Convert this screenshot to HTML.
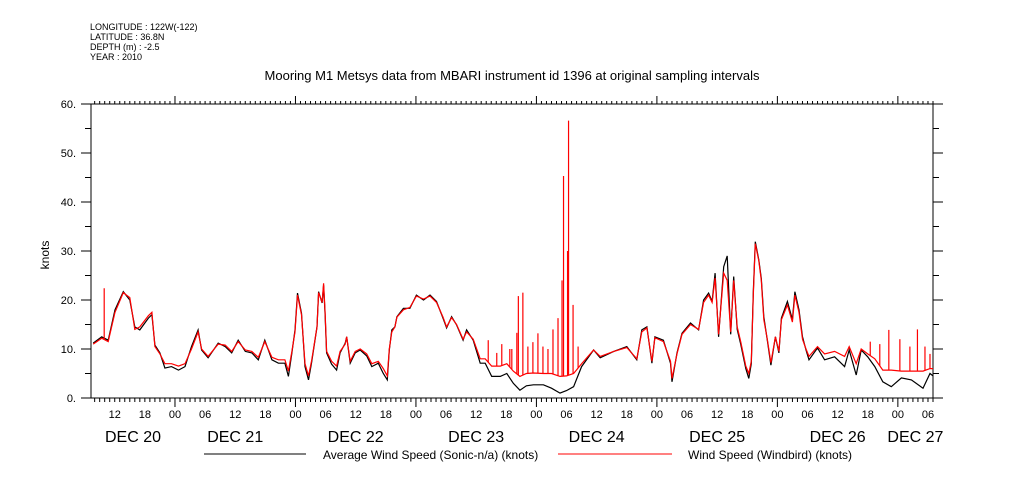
<!DOCTYPE html>
<html><head><meta charset="utf-8"><style>
body{margin:0;background:#fff;}
svg{display:block;font-family:"Liberation Sans",sans-serif;}
</style></head><body>
<svg id="chart" width="1009" height="504" viewBox="0 0 1009 504">
<g font-size="9" fill="#000">
<text x="90" y="30">LONGITUDE : 122W(-122)</text>
<text x="90" y="40">LATITUDE : 36.8N</text>
<text x="90" y="50">DEPTH (m) : -2.5</text>
<text x="90" y="60">YEAR : 2010</text>
</g>
<text x="512" y="80" text-anchor="middle" font-size="13">Mooring M1 Metsys data from MBARI instrument id 1396 at original sampling intervals</text>
<text transform="translate(49,255) rotate(-90)" text-anchor="middle" font-size="12">knots</text>
<rect x="91" y="104" width="842" height="294" fill="none" stroke="#000" stroke-width="1"/>
<g id="axes"></g>
<g id="series"></g>
<g font-size="12">
<line x1="204" y1="454" x2="306" y2="454" stroke="#000"/>
<text x="323" y="459">Average Wind Speed (Sonic-n/a) (knots)</text>
<line x1="558" y1="454" x2="672" y2="454" stroke="#f00"/>
<text x="688" y="459">Wind Speed (Windbird) (knots)</text>
</g>
</svg>
<script>
const sampleHours=[7.7,9.4,10.7,12.05,13.7,15,16,17,18.7,19.4,20,21,22,23.3,24.7,26,27.3,28.6,29.3,30.6,32.6,34,35.3,36.6,38,39.3,40.6,41.9,43.3,44.6,45.9,46.6,47.3,47.9,48.4,49.2,49.9,50.6,51.2,51.6,52.3,52.6,53.3,53.6,53.9,54.2,55.2,56.2,56.9,57.9,58.2,58.9,59.9,60.9,62.2,63.2,64.5,65.5,66.3,66.7,67.2,67.8,68.2,69.5,70.8,72.1,73.5,74.8,76.1,77.4,78.1,79.1,80.1,81.4,82.1,83.4,84.8,85.8,87.1,88.8,90.1,91.4,92.7,94,95.4,97.4,99,100.7,102,103.4,105,107.4,108.7,111.4,114,116,117,118,119,119.6,121.3,122.7,123,124,125,126.7,128.3,129.3,130.3,131,131.6,132.3,133.3,134,134.7,135.3,136,136.7,137.7,138.3,138.8,139.2,139.6,140.3,140.8,141.3,142,142.7,143.6,144.3,144.8,146,147,147.5,148.3,149,149.7,150.3,152,153.4,155.4,157.4,158.3,159.7,160.7,162,163.4,165,166.7,168.7,170.7,173,174.4,175];
const averageValues=[11.2,12.5,11.8,18,21.7,20,14.5,13.9,16.3,17,10.8,9.2,6.1,6.4,5.7,6.4,10.5,13.9,9.8,8.2,11.2,10.5,9.2,11.8,9.5,9.2,7.8,11.8,7.8,7.1,7.1,4.4,9.2,13.9,21.4,17.3,6.4,3.7,7.1,9.8,14.5,21.7,19.4,23,17,9.2,6.9,5.7,9.2,11.2,12.5,7.1,9.2,9.8,8.6,6.4,7.1,5,3.7,9.8,13.9,14.5,16.6,18.3,18.3,21,20,21,19.7,16.3,14.3,16.6,14.9,11.8,13.9,11.8,7.1,7.1,4.4,4.4,5,3,1.6,2.5,2.7,2.7,2,1,1.5,2.3,6.4,9.8,8.2,9.5,10.5,7.8,13.9,14.5,7.1,12.5,11.8,7.1,3.3,9.2,13.2,15.3,13.9,20,21.4,19.7,25.5,12.5,26.8,29,13,24.8,14,11,6,4,7,21.7,31.9,28.2,24.4,16.6,11.8,6.7,12.5,9.2,16.3,19.7,16,21.7,18,12.5,9.8,7.8,10.2,7.8,8.4,6.4,9.8,4.7,9.8,8.4,6.4,3.3,2.3,4.1,3.7,2,5,4.5];
const windbirdValues=[11,12.2,11.5,17.5,21.5,20.5,14,14.5,16.8,17.5,10.5,9,7,7,6.5,7,10,13.5,10,8.5,11,10.8,9.5,11.5,9.8,9.5,8.3,11.5,8.3,7.8,7.8,5.5,9.5,13.5,21,17,7,4.5,7.5,10,14.5,21.5,19.5,23.4,17.5,9.5,7.5,6.5,9.5,11,12.5,7.5,9.5,10,9,7,7.5,6,4.5,10,13.5,14.5,16.5,18,18.5,20.8,20.2,20.8,19.5,16.5,14.5,16.4,15,12,13.5,12,8,8,6.5,6.5,7,5.5,4.4,5,5.1,5,5,4.4,4.5,5,7,9.8,8.5,9.5,10.3,8,13.5,14.3,7.5,12.3,11.5,7.5,4,9,13,15,14,19.5,21,19.5,24.5,13,25.5,24,13.5,24,14.5,11.5,6.5,5,7.5,21,31.5,28,24,16,12,7.2,12.5,9.5,16,19,15.5,21,17.5,12,10,8.5,10.5,9,9.5,8.5,10.5,7,10,9,8,5.7,5.7,5.5,5.5,5.5,6,6];
const spikeHours=[9.9,86.4,88.1,89.1,90.7,91.1,92.1,92.4,93.3,94.3,95.3,96.3,97.3,98.3,99.3,100.3,101.1,101.4,102.2,102.4,103.3,104.3,162.5,164.4,166.2,168.4,170.4,171.9,173.4,174.4];
const spikeValues=[22.4,11.8,9.2,11,10,10,13.3,20.8,21.5,10.5,11.4,13.2,10.5,10,14,16.3,24,45.3,30,56.6,19,10.5,11.5,11,13.9,12,10.5,14,10.5,9];
const yTicks=[0,10,20,30,40,50,60];
const yTickLabels=["0.","10.","20.","30.","40.","50.","60."];
const hourLabels=["12","18","00","06","12","18","00","06","12","18","00","06","12","18","00","06","12","18","00","06","12","18","00","06","12","18","00","06"];
const dayLabels=["DEC 20","DEC 21","DEC 22","DEC 23","DEC 24","DEC 25","DEC 26","DEC 27"];

const NS="http://www.w3.org/2000/svg";
const X0=91,X1=933,Y0=104,Y1=398,T0=7.27,T1=175;
function xs(t){return 54.5+t*5.02;}
function ys(v){return Y1-v*(Y1-Y0)/60;}
function mk(tag,attrs,parent){const e=document.createElementNS(NS,tag);for(const k in attrs)e.setAttribute(k,attrs[k]);parent.appendChild(e);return e;}
const axes=document.getElementById('axes');
let d="";
yTicks.forEach(v=>{const y=ys(v);d+=`M${X0} ${y}H${X0-10}M${X1} ${y}H${X1+10}`;});
for(let v=5;v<60;v+=10){const y=ys(v);d+=`M${X0} ${y}H${X0-6}M${X1} ${y}H${X1+6}`;}
for(let h=8;h<=175;h++){const x=xs(h);if(x<X0||x>X1)continue;const big=(h%24===0);d+=`M${x} ${Y1}V${Y1+(big?9:4)}M${x} ${Y0}V${Y0-(big?8:3)}`;}
const tk=mk('path',{d:d,stroke:'#000','stroke-width':1,fill:'none'},axes);


yTicks.forEach((v,i)=>{const t=mk('text',{x:X0-15,y:ys(v)+4,'text-anchor':'end','font-size':11},axes);t.textContent=yTickLabels[i];

});
hourLabels.forEach((s,i)=>{const h=12+6*i;const t=mk('text',{x:xs(h),y:418,'text-anchor':'middle','font-size':11},axes);t.textContent=s;

});
dayLabels.forEach((s,i)=>{const a=Math.max(T0,i*24),b=Math.min(T1,(i+1)*24);const t=mk('text',{x:(xs(a)+xs(b))/2,y:442,'text-anchor':'middle','font-size':16},axes);t.textContent=s;

});
const ser=document.getElementById('series');
function line(vals,color,name){const n=Math.min(sampleHours.length,vals.length);let p="";for(let i=0;i<n;i++)p+=(i?"L":"M")+xs(sampleHours[i]).toFixed(1)+" "+ys(vals[i]).toFixed(1);
const e=mk('path',{d:p,stroke:color,'stroke-width':1.2,fill:'none'},ser);

}
function interp(vals,t){for(let i=1;i<sampleHours.length;i++){if(sampleHours[i]>=t){const a=sampleHours[i-1],b=sampleHours[i];return vals[i-1]+(vals[i]-vals[i-1])*(t-a)/(b-a);}}return vals[vals.length-1];}
line(averageValues,'#000','average-wind-speed-line');
line(windbirdValues,'#f00','windbird-wind-speed-line');
spikeHours.forEach((h,i)=>{const x=xs(h);const s=mk('line',{x1:x,x2:x,y1:ys(interp(windbirdValues,h)),y2:ys(spikeValues[i]),stroke:'#f00','stroke-width':1.2},ser);

});
</script>
</body></html>
